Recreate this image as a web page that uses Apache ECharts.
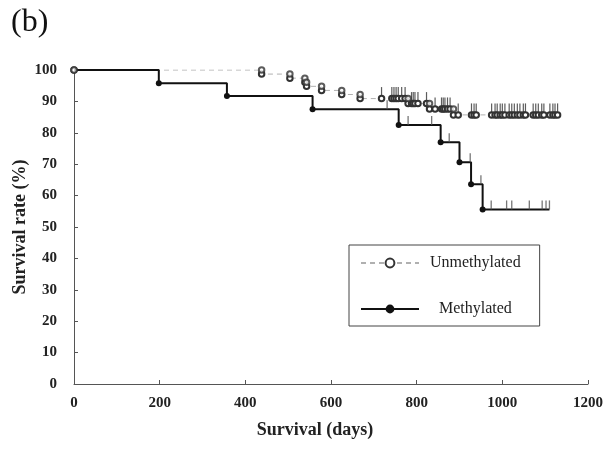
<!DOCTYPE html>
<html><head><meta charset="utf-8">
<script src="https://cdn.jsdelivr.net/npm/echarts@6.0.0/dist/echarts.min.js"></script>
<style>html,body{margin:0;padding:0;background:#fff}#c{width:607px;height:451px}</style>
</head><body><div id="c"></div>
<script>
// ---- data ----
const xTicks = [0, 200, 400, 600, 800, 1000, 1200];
const yTicks = [0, 10, 20, 30, 40, 50, 60, 70, 80, 90, 100];
const seriesNames = ['Unmethylated', 'Methylated'];

const unmethEventDays = [438, 504, 539, 543, 578, 625, 668, 780, 830, 886];
const unmethEventSurv = [98.7, 97.4, 96.1, 94.8, 93.5, 92.2, 90.9, 89.3, 87.6, 85.7];
const unmethCensorDays = [718, 742, 747, 752, 757, 765, 773, 788, 792, 796, 803, 823,
  843, 858, 862, 866, 872, 878, 897, 928, 934, 939, 975, 983, 988, 995, 1000, 1006,
  1016, 1022, 1028, 1035, 1041, 1049, 1054, 1072, 1078, 1084, 1092, 1097, 1111, 1118, 1123, 1129];

const methEventDays = [198, 357, 557, 758, 856, 900, 927, 954];
const methEventSurv = [95.8, 91.7, 87.5, 82.5, 77.0, 70.6, 63.6, 55.6];
const methCensorDays = [731, 780, 835, 876, 925, 950, 974, 1010, 1022, 1063, 1093, 1102, 1110];

// ---- helpers (step lookup of the KM curve) ----
function levelAt(days, surv, t) {
  let s = 100;
  for (let i = 0; i < days.length; i++) if (days[i] <= t) s = surv[i];
  return s;
}
const unmethPoints = [[0, 100]]
  .concat(unmethEventDays.map((d, i) => [d, unmethEventSurv[i]]))
  .concat(unmethCensorDays.map(d => [d, levelAt(unmethEventDays, unmethEventSurv, d)]))
  .sort((a, b) => a[0] - b[0]);
const unmethUpper = [[0, 100]].concat(unmethEventDays.map((d, i) => [d, i === 0 ? 100 : unmethEventSurv[i - 1]]));
const unmethTicks = unmethCensorDays.map(d => [d, levelAt(unmethEventDays, unmethEventSurv, d)]);

const lastMeth = methCensorDays[methCensorDays.length - 1];
const methPoints = [{ value: [0, 100], symbol: 'none' }]
  .concat(methEventDays.map((d, i) => [d, methEventSurv[i]]))
  .concat([{ value: [lastMeth, levelAt(methEventDays, methEventSurv, lastMeth)], symbol: 'none' }]);
const methTicks = methCensorDays.map(d => [d, levelAt(methEventDays, methEventSurv, d)]);

const serif = '"Liberation Serif", "Times New Roman", serif';
const chart = echarts.init(document.getElementById('c'), null, { renderer: 'canvas' });
chart.setOption({
  animation: false,
  backgroundColor: '#fff',
  graphic: [{ type: 'text', left: 11, top: 7, style: { text: '(b)', font: '32px ' + serif, fill: '#111' } }],
  grid: { left: 74, right: 19, top: 70, bottom: 67, containLabel: false, outerBoundsMode: 'none' },
  legend: {
    data: seriesNames, orient: 'vertical', left: 349, top: 245,
    padding: [10, 19, 9, 11], itemWidth: 58, itemHeight: 11, itemGap: 30,
    borderColor: '#444', borderWidth: 1, selectedMode: false,
    formatter: n => n === 'Methylated' ? '{b|' + n + '}' : '{a|' + n + '}',
    textStyle: {
      fontFamily: serif, fontSize: 16, color: '#222', lineHeight: 16,
      rich: { a: { fontFamily: serif, fontSize: 16, padding: [0, 0, 0, 6] }, b: { fontFamily: serif, fontSize: 16, padding: [0, 0, 0, 15] } }
    }
  },
  xAxis: {
    type: 'value', min: xTicks[0], max: xTicks[xTicks.length - 1], interval: 200,
    name: 'Survival (days)', nameLocation: 'middle', nameGap: 37, nameMoveOverlap: false,
    nameTextStyle: { fontFamily: serif, fontSize: 18, fontWeight: 'bold', color: '#222', padding: [0, 32, 0, 0] },
    axisLine: { show: true, lineStyle: { color: '#555', width: 1 } },
    axisTick: { show: true, inside: true, length: 4, lineStyle: { color: '#555' } },
    axisLabel: { fontFamily: serif, fontSize: 15, fontWeight: 'bold', color: '#222', margin: 12, formatter: v => String(v) },
    splitLine: { show: false }
  },
  yAxis: {
    type: 'value', min: yTicks[0], max: yTicks[yTicks.length - 1], interval: 10,
    name: 'Survival rate (%)', nameLocation: 'middle', nameGap: 45, nameMoveOverlap: false,
    nameTextStyle: { fontFamily: serif, fontSize: 18, fontWeight: 'bold', color: '#222' },
    axisLine: { show: true, lineStyle: { color: '#555', width: 1 } },
    axisTick: { show: true, inside: true, length: 4, lineStyle: { color: '#555' } },
    axisLabel: { fontFamily: serif, fontSize: 15, fontWeight: 'bold', color: '#222', margin: 17, formatter: v => String(v) },
    splitLine: { show: false }
  },
  series: [
    {
      name: seriesNames[0], type: 'line', step: 'end', data: unmethPoints, z: 2,
      symbol: 'emptyCircle', symbolSize: 5.5, showSymbol: true, showAllSymbol: true,
      lineStyle: { color: '#b0b0b0', width: 1, type: [5, 4] },
      itemStyle: { color: '#333', borderColor: '#333', borderWidth: 1 },
      emphasis: { disabled: true }
    },
    {
      name: seriesNames[1], type: 'line', step: 'end', data: methPoints, z: 3,
      symbol: 'circle', symbolSize: 6, showSymbol: true,
      lineStyle: { color: '#111', width: 2 },
      itemStyle: { color: '#111' },
      emphasis: { disabled: true }
    },
    {
      type: 'scatter', data: unmethUpper, z: 4, symbol: 'emptyCircle', symbolSize: 5.5,
      itemStyle: { color: '#333', borderColor: '#333', borderWidth: 1 }, emphasis: { disabled: true }
    },
    {
      type: 'scatter', data: unmethTicks, z: 4, symbol: 'rect', symbolSize: [1.2, 9], symbolOffset: [0, -7],
      itemStyle: { color: '#333' }, emphasis: { disabled: true }
    },
    {
      type: 'scatter', data: methTicks, z: 4, symbol: 'rect', symbolSize: [1.3, 9], symbolOffset: [0, -4.5],
      itemStyle: { color: '#555' }, emphasis: { disabled: true }
    }
  ]
});
</script>
</body></html>
